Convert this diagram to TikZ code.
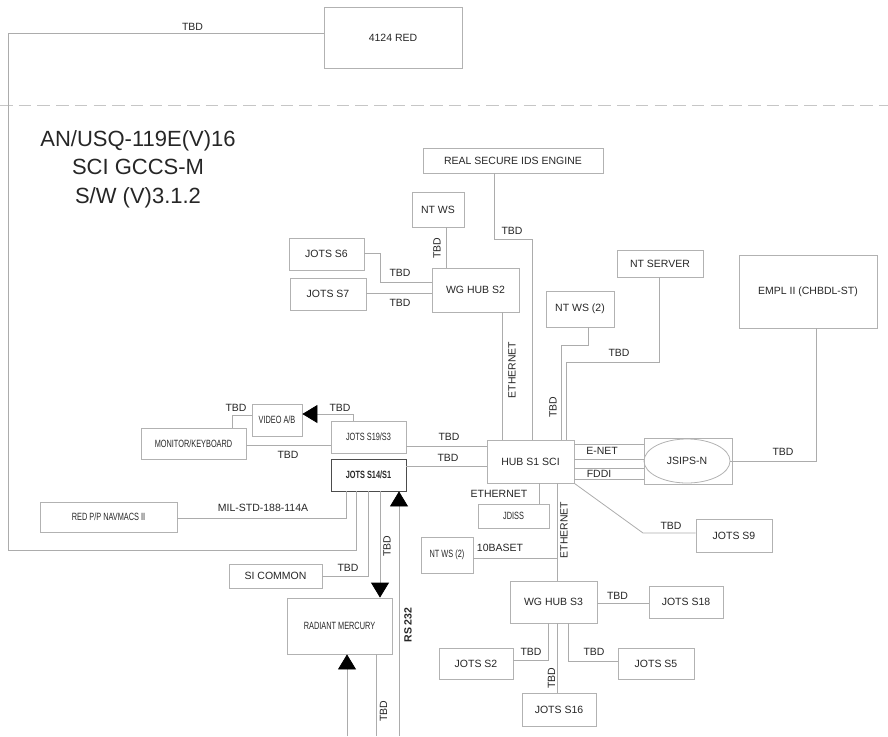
\documentclass[tikz,border=0pt]{standalone}
\usepackage{fontspec}
\setmainfont{Liberation Sans}
\newfontfamily\narrowfont[FakeStretch=0.7]{Liberation Sans}
\usetikzlibrary{arrows.meta,shapes.geometric}
\tikzset{
  box/.style={draw=gray!60, line width=0.8pt, rectangle, inner sep=0pt, text=black!85, font=\fontsize{10.5}{12}\selectfont},
  narrowbox/.style={box, font=\narrowfont\fontsize{10.5}{12}\selectfont},
  link/.style={draw=gray!65, line width=0.8pt},
  lbl/.style={inner sep=0pt, text=black!85, font=\fontsize{10.5}{12}\selectfont},
  vlbl/.style={lbl, rotate=90},
  arrowend/.style={-{Triangle[width=18pt,length=15pt,color=black]}},
}
\begin{document}
\begin{tikzpicture}[x=1pt,y=-1pt]
    \useasboundingbox (0,0) rectangle (888,736);
    % Draw the boundary
    \draw[gray!45, line width=0.8pt, dash pattern=on 12.5pt off 6.2pt] (0,105) -- (888,105);
    % Draw the title
    \node[align=center, text=black!85, font=\fontsize{22}{28.5}\selectfont] (title) at (138,169) {AN/USQ-119E(V)16\\SCI GCCS-M\\S/W (V)3.1.2};
    % Draw the boxes
    \node[box, minimum width=138, minimum height=61] (red4124) at (393,37.5) {4124 RED};
    \node[box, minimum width=180, minimum height=25] (realsecure) at (513,160.5) {REAL SECURE IDS ENGINE};
    \node[box, minimum width=52, minimum height=35] (ntws) at (438,209.5) {NT WS};
    \node[box, minimum width=75, minimum height=32] (jotss6) at (326.5,254) {JOTS S6};
    \node[box, minimum width=76, minimum height=32] (jotss7) at (328,294) {JOTS S7};
    \node[box, minimum width=87, minimum height=44] (wghubs2) at (475.5,290) {WG HUB S2};
    \node[box, minimum width=68, minimum height=36] (ntwstwo) at (580,309) {NT WS (2)};
    \node[box, minimum width=86, minimum height=27] (ntserver) at (660,263.5) {NT SERVER};
    \node[box, minimum width=138, minimum height=73] (empl) at (808,291.5) {EMPL II (CHBDL-ST)};
    \node[box, minimum width=87, minimum height=43] (hubs1) at (530.5,461.5) {HUB S1 SCI};
    \node[box, minimum width=88, minimum height=46] (jsipsbox) at (688,461) {};
    \node[box, ellipse, minimum width=86, minimum height=44] (jsipsn) at (687,461) {JSIPS-N};
    \node[narrowbox, minimum width=71, minimum height=24] (jdiss) at (513.5,516) {JDISS};
    \node[narrowbox, minimum width=52, minimum height=36] (ntwsthree) at (447,555) {NT WS (2)};
    \node[box, minimum width=76, minimum height=33] (jotss9) at (734,535.5) {JOTS S9};
    \node[box, minimum width=87, minimum height=42] (wghubs3) at (553.5,602) {WG HUB S3};
    \node[box, minimum width=74, minimum height=32] (jotss18) at (686,602) {JOTS S18};
    \node[box, minimum width=74, minimum height=31] (jotss2) at (476,663.5) {JOTS S2};
    \node[box, minimum width=74, minimum height=33] (jotss16) at (559,709.5) {JOTS S16};
    \node[box, minimum width=76, minimum height=31] (jotss5) at (656,663.5) {JOTS S5};
    \node[narrowbox, minimum width=105, minimum height=56] (radiant) at (339.5,626) {RADIANT MERCURY};
    \node[narrowbox, minimum width=50, minimum height=32] (videoab) at (277,420) {VIDEO A/B};
    \node[narrowbox, minimum width=105, minimum height=31] (monitor) at (193.5,443.5) {MONITOR/KEYBOARD};
    \node[narrowbox, minimum width=75, minimum height=32] (jotss19) at (368.5,437) {JOTS S19/S3};
    \node[narrowbox, draw=black!70, minimum width=75, minimum height=32] (jotss14) at (368.5,475) {\bfseries JOTS S14/S1};
    \node[narrowbox, minimum width=137, minimum height=30] (redpp) at (108.5,517) {RED P/P NAVMACS II};
    \node[box, minimum width=93, minimum height=24] (sicommon) at (275.5,576) {SI COMMON};
    % Draw the loop to 4124 RED
    \draw[link] (red4124.west |- 0,33) -| (8,550) -| (jotss14.south -| 356,0);
    \node[lbl] (tbdred) at (192.5,26.5) {TBD};
    % Draw the links above HUB S1 SCI
    \draw[link] (realsecure.south -| 494,0) |- (532,239) -- (hubs1.north -| 532,0);
    \node[lbl] (tbdreal) at (512,231) {TBD};
    \draw[link] (ntws.south -| 446,0) -- (wghubs2.north -| 446,0);
    \node[vlbl] (tbdntws) at (437,248) {TBD};
    \draw[link] (jotss6.east |- 0,253) -| (380,282) -- (wghubs2.west |- 0,282);
    \node[lbl] (tbds6) at (400,273) {TBD};
    \draw[link] (jotss7.east |- 0,293) -- (wghubs2.west |- 0,293);
    \node[lbl] (tbds7) at (400,303) {TBD};
    \draw[link] (wghubs2.south -| 502,0) -- (hubs1.north -| 502,0);
    \node[vlbl] (eths2) at (512,370) {ETHERNET};
    \draw[link] (ntwstwo.south -| 588,0) |- (561,345) -- (hubs1.north -| 561,0);
    \node[vlbl] (tbdntws2) at (553,407) {TBD};
    \draw[link] (ntserver.south -| 659,0) |- (566,362) -- (hubs1.north -| 566,0);
    \node[lbl] (tbdserver) at (619,353) {TBD};
    % Draw the links to JSIPS-N
    \draw[link] (empl.south -| 816,0) |- (jsipsn.east);
    \node[lbl] (tbdempl) at (783,452) {TBD};
    \draw[link] (hubs1.east |- 0,444) -- (jsipsbox.west |- 0,444);
    \draw[link] (hubs1.east |- 0,459) -- (jsipsbox.west |- 0,459);
    \node[lbl] (enet) at (602,451) {E-NET};
    \draw[link] (hubs1.east |- 0,468) -- (jsipsbox.west |- 0,468);
    \draw[link] (hubs1.east |- 0,479) -- (jsipsbox.west |- 0,479);
    \node[lbl] (fddi) at (599,474) {FDDI};
    % Draw the links on the left
    \draw[link] (jotss19.east |- 0,446) -- (hubs1.west |- 0,446);
    \node[lbl] (tbds19) at (449,437) {TBD};
    \draw[link] (jotss14.east |- 0,466) -- (hubs1.west |- 0,466);
    \node[lbl] (tbds14) at (448,458) {TBD};
    \draw[link] (monitor.east |- 0,445) -- (jotss19.west |- 0,445);
    \node[lbl] (tbdmon) at (288,455) {TBD};
    \draw[link] (monitor.north -| 232,0) |- (videoab.west |- 0,415);
    \node[lbl] (tbdvid) at (236,408) {TBD};
    \draw[link, arrowend] (jotss19.north -| 353,0) |- (videoab.east |- 0,414);
    \node[lbl] (tbdarrow) at (340,408) {TBD};
    \draw[link] (jotss14.south -| 346,0) |- (redpp.east |- 0,518);
    \node[lbl] (milstd) at (263,508) {MIL-STD-188-114A};
    \draw[link] (jotss14.south -| 368,0) |- (sicommon.east |- 0,576);
    \node[lbl] (tbdsi) at (348,568) {TBD};
    % Draw the links to RADIANT MERCURY
    \draw[link, arrowend] (jotss14.south -| 380,0) -- (radiant.north -| 380,0);
    \node[vlbl] (tbdrad) at (387,546) {TBD};
    \coordinate (rsend) at (399,736);
    \draw[link, arrowend] (rsend) -- (jotss14.south -| 399,0);
    \node[vlbl, font=\bfseries\fontsize{10.5}{12}\selectfont] (rs232) at (408,625) {RS 232};
    \coordinate (radin) at (347,736);
    \draw[link, arrowend] (radin) -- (radiant.south -| 347,0);
    \coordinate (radout) at (376,736);
    \draw[link] (radiant.south -| 376,0) -- (radout);
    \node[vlbl] (tbdout) at (383.5,711) {TBD};
    % Draw the links below HUB S1 SCI
    \draw[link] (hubs1.south -| 539,0) -- (jdiss.north -| 539,0);
    \node[lbl] (ethjdiss) at (499,494) {ETHERNET};
    \draw[link] (hubs1.south -| 557,0) -- (wghubs3.north -| 557,0);
    \node[vlbl] (eths3) at (564,530) {ETHERNET};
    \coordinate (tap) at (557,558);
    \draw[link] (ntwsthree.east |- tap) -- (tap);
    \node[lbl] (tenbaset) at (500,548) {10BASET};
    \draw[link] (hubs1.south east) -- (643,533) -- (jotss9.west |- 0,533);
    \node[lbl] (tbds9) at (671,526) {TBD};
    % Draw the links round WG HUB S3
    \draw[link] (wghubs3.east |- 0,603) -- (jotss18.west |- 0,603);
    \node[lbl] (tbds18) at (617.5,595.5) {TBD};
    \draw[link] (wghubs3.south -| 548,0) |- (jotss2.east |- 0,660);
    \node[lbl] (tbds2) at (531,651.5) {TBD};
    \draw[link] (wghubs3.south -| 557,0) -- (jotss16.north -| 557,0);
    \node[vlbl] (tbds16) at (551.5,678) {TBD};
    \draw[link] (wghubs3.south -| 568,0) |- (jotss5.west |- 0,661);
    \node[lbl] (tbds5) at (594,651.5) {TBD};
\end{tikzpicture}
\end{document}
